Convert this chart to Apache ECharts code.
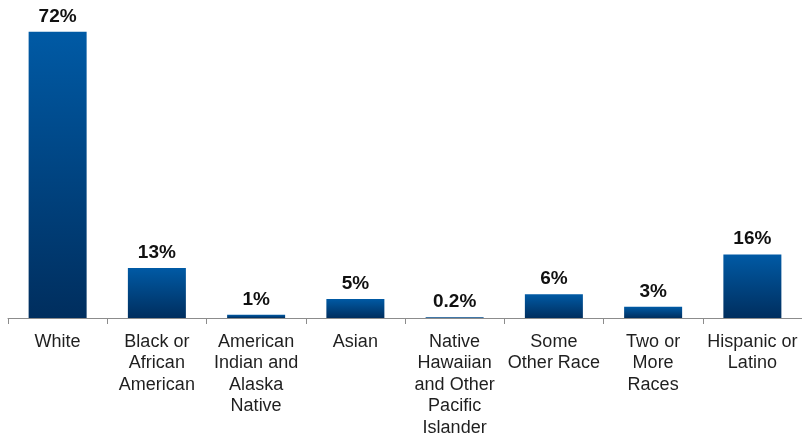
<!DOCTYPE html>
<html><head><meta charset="utf-8">
<script src="https://cdn.jsdelivr.net/npm/echarts@6/dist/echarts.min.js"></script>
<style>html,body{margin:0;padding:0;background:#fff}#c{width:802px;height:438px}</style>
</head><body><div id="c"></div>
<script>
const categories = ["White", "Black or\nAfrican\nAmerican", "American\nIndian and\nAlaska\nNative", "Asian", "Native\nHawaiian\nand Other\nPacific\nIslander", "Some\nOther Race", "Two or\nMore\nRaces", "Hispanic or\nLatino"];
const values = [72, 12.6, 0.8, 4.8, 0.2, 6, 2.8, 16];
const valueLabels = ["72%", "13%", "1%", "5%", "0.2%", "6%", "3%", "16%"];

const chart = echarts.init(document.getElementById('c'));
chart.setOption({
  animation: false,
  grid: {left: 8, right: 0, top: 0, bottom: 120, containLabel: false, outerBoundsMode: 'none'},
  xAxis: {
    type: 'category', data: categories, boundaryGap: true,
    axisLine: {lineStyle: {color: '#8c8c8c', width: 1}},
    axisTick: {show: true, length: 6, lineStyle: {color: '#8c8c8c'}},
    axisLabel: {interval: 0, color: '#1f1f1f', fontFamily: 'Liberation Sans, Arial, sans-serif', fontSize: 18, lineHeight: 21.5, margin: 13}
  },
  yAxis: {type: 'value', min: 0, max: 80, show: false, splitLine: {show: false}},
  series: [{
    type: 'bar', data: values, barWidth: 58,
    itemStyle: {color: new echarts.graphic.LinearGradient(0, 0, 0, 1, [
      {offset: 0, color: '#005aa5'}, {offset: 1, color: '#002e5e'}])},
    label: {show: true, position: 'top', distance: 6, color: '#111', fontWeight: 'bold',
      fontFamily: 'Liberation Sans, Arial, sans-serif', fontSize: 19,
      formatter: p => valueLabels[p.dataIndex]}
  }]
});
</script></body></html>
